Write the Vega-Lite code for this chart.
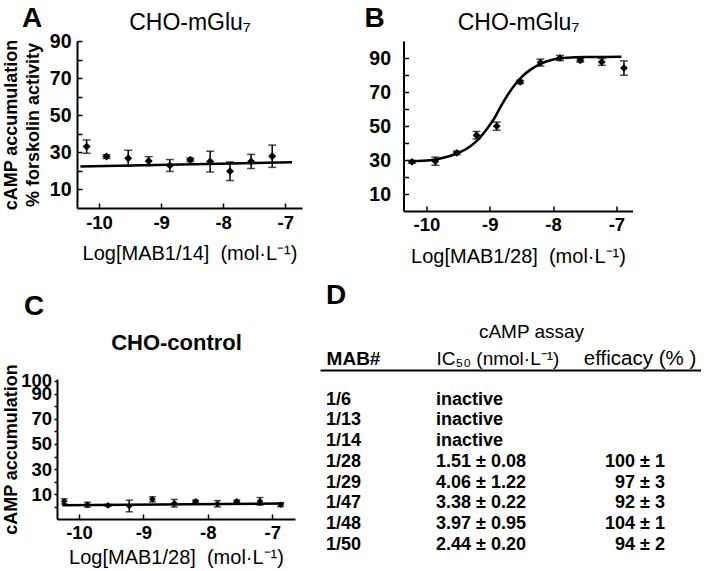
{
  "$schema": "https://vega.github.io/schema/vega-lite/v6.json",
  "background": "white",
  "padding": {"left": 2, "top": 4, "right": 0, "bottom": 0},
  "config": {
    "font": "Liberation Sans",
    "view": {"stroke": null},
    "axis": {"domainColor": "black", "domainWidth": 2, "tickColor": "black", "tickWidth": 1.5, "labelColor": "black", "titleColor": "black", "grid": false, "labelFlush": false, "labelOverlap": false, "labelFont": "Liberation Sans", "titleFont": "Liberation Sans"},
    "title": {"color": "black", "font": "Liberation Sans"},
    "text": {"font": "Liberation Sans", "color": "black"}
  },
  "datasets": {
    "ptsA": [
      {"x": -10.2, "y": 33.1, "e": 3.6},
      {"x": -9.88, "y": 27.7, "e": 1.0},
      {"x": -9.53, "y": 26.8, "e": 4.3},
      {"x": -9.2, "y": 25.3, "e": 2.4},
      {"x": -8.86, "y": 22.9, "e": 3.2},
      {"x": -8.53, "y": 26.0, "e": 1.0},
      {"x": -8.21, "y": 25.0, "e": 5.6},
      {"x": -7.89, "y": 19.8, "e": 5.0},
      {"x": -7.55, "y": 25.1, "e": 3.8},
      {"x": -7.21, "y": 27.9, "e": 6.0}
    ],
    "fitA": [
      {"x": -10.3, "y": 22.3},
      {"x": -6.89, "y": 24.6}
    ],
    "ptsB": [
      {"x": -10.23, "y": 28.9, "e": 0.8},
      {"x": -9.86, "y": 29.3, "e": 2.4},
      {"x": -9.52, "y": 34.2, "e": 1.0},
      {"x": -9.21, "y": 44.6, "e": 2.2},
      {"x": -8.89, "y": 49.9, "e": 2.4},
      {"x": -8.52, "y": 75.9, "e": 1.0},
      {"x": -8.2, "y": 87.3, "e": 2.0},
      {"x": -7.89, "y": 90.0, "e": 1.5},
      {"x": -7.57, "y": 88.6, "e": 1.0},
      {"x": -7.23, "y": 87.7, "e": 2.0},
      {"x": -6.88, "y": 84.1, "e": 4.2}
    ],
    "fitB": [
      {"x": -10.23, "y": 29.3},
      {"x": -9.94, "y": 29.9},
      {"x": -9.67, "y": 31.9},
      {"x": -9.46, "y": 34.8},
      {"x": -9.3, "y": 38.3},
      {"x": -9.17, "y": 42.6},
      {"x": -9.04, "y": 48.5},
      {"x": -8.93, "y": 54.4},
      {"x": -8.83, "y": 61.2},
      {"x": -8.72, "y": 68.1},
      {"x": -8.61, "y": 74.0},
      {"x": -8.48, "y": 79.4},
      {"x": -8.35, "y": 83.3},
      {"x": -8.19, "y": 86.7},
      {"x": -8.01, "y": 89.0},
      {"x": -7.77, "y": 90.2},
      {"x": -7.4, "y": 90.6},
      {"x": -6.92, "y": 90.8}
    ],
    "ptsC": [
      {"x": -10.23, "y": 4.5, "e": 2.0},
      {"x": -9.87, "y": 1.8, "e": 2.0},
      {"x": -9.55, "y": 1.3, "e": 0.8},
      {"x": -9.22, "y": 0.8, "e": 4.6},
      {"x": -8.86, "y": 6.1, "e": 2.0},
      {"x": -8.52, "y": 3.0, "e": 3.0},
      {"x": -8.19, "y": 4.5, "e": 1.0},
      {"x": -7.85, "y": 2.6, "e": 2.5},
      {"x": -7.55, "y": 4.5, "e": 1.0},
      {"x": -7.19, "y": 4.5, "e": 3.0},
      {"x": -6.87, "y": 1.8, "e": 1.5}
    ],
    "fitC": [
      {"x": -10.26, "y": 1.5},
      {"x": -6.82, "y": 2.7}
    ],
    "table": [
      {"mab": "1/6", "ic50": "inactive", "eff": ""},
      {"mab": "1/13", "ic50": "inactive", "eff": ""},
      {"mab": "1/14", "ic50": "inactive", "eff": ""},
      {"mab": "1/28", "ic50": "1.51 ± 0.08", "eff": "100 ± 1"},
      {"mab": "1/29", "ic50": "4.06 ± 1.22", "eff": "97 ± 3"},
      {"mab": "1/47", "ic50": "3.38 ± 0.22", "eff": "92 ± 3"},
      {"mab": "1/48", "ic50": "3.97 ± 0.95", "eff": "104 ± 1"},
      {"mab": "1/50", "ic50": "2.44 ± 0.20", "eff": "94 ± 2"}
    ]
  },
  "columns": 1,
  "align": "none",
  "spacing": 15,
  "concat": [
    {
      "spacing": 62.5,
      "hconcat": [
        {
          "width": 225, "height": 167,
          "title": {"text": "A", "anchor": "start", "frame": "group", "fontSize": 28, "fontWeight": "bold", "dx": -55, "offset": -21},
          "encoding": {
            "y": {"field": "y", "type": "quantitative", "scale": {"domain": [0, 90], "nice": false, "zero": false},
                  "axis": {"values": [10, 20, 30, 40, 50, 60, 70, 80, 90], "labelExpr": "datum.value % 20 == 10 ? datum.label : ''", "tickSize": -5, "labelFontSize": 19.5, "labelFontWeight": "bold", "labelPadding": 11, "title": ["cAMP accumulation", "% forskolin activity"], "titleFontSize": 18, "titleFontWeight": "bold", "titleLineHeight": 22, "titlePadding": 7}}
          },
          "layer": [
            {
              "data": {"name": "fitA"},
              "mark": {"type": "line", "color": "black", "strokeWidth": 2.5},
              "encoding": {
                "x": {"field": "x", "type": "quantitative", "scale": {"domain": [-10.355, -6.73], "nice": false, "zero": false},
                      "axis": {"orient": "top", "domain": false, "ticks": false, "labels": false, "title": "CHO-mGlu₇", "titleFontSize": 23, "titleFontWeight": "normal", "titlePadding": 6.5}}
              }
            },
            {
              "data": {"name": "ptsA"},
              "mark": {"type": "errorbar", "color": "black", "thickness": 1.5, "ticks": {"size": 8}},
              "encoding": {
                "x": {"field": "x", "type": "quantitative", "axis": null},
                "yError": {"field": "e"}
              }
            },
            {
              "data": {"name": "ptsA"},
              "mark": {"type": "point", "shape": "diamond", "filled": true, "size": 64, "color": "black", "opacity": 1},
              "encoding": {
                "x": {"field": "x", "type": "quantitative",
                      "axis": {"orient": "bottom", "values": [-10, -9, -8, -7], "labelExpr": "'' + datum.value", "tickSize": -5, "labelFontSize": 18.5, "labelFontWeight": "bold", "labelPadding": 10.7, "title": "Log[MAB1/14]\u00a0\u00a0(mol·L⁻¹)", "titleFontSize": 20, "titleFontWeight": "normal", "titlePadding": 11}}
              }
            }
          ],
          "resolve": {"axis": {"x": "independent"}}
        },
        {
          "width": 229, "height": 170,
          "title": {"text": "B", "anchor": "start", "frame": "group", "fontSize": 28, "fontWeight": "bold", "dx": -39, "offset": -21},
          "encoding": {
            "y": {"field": "y", "type": "quantitative", "scale": {"domain": [0, 100], "nice": false, "zero": false},
                  "axis": {"values": [10, 20, 30, 40, 50, 60, 70, 80, 90], "labelExpr": "datum.value % 20 == 10 ? datum.label : ''", "tickSize": -5, "labelFontSize": 19.5, "labelFontWeight": "bold", "labelPadding": 18, "title": null}}
          },
          "layer": [
            {
              "data": {"name": "fitB"},
              "mark": {"type": "line", "color": "black", "strokeWidth": 2.5, "interpolate": "monotone"},
              "encoding": {
                "x": {"field": "x", "type": "quantitative", "scale": {"domain": [-10.363, -6.745], "nice": false, "zero": false},
                      "axis": {"orient": "top", "domain": false, "ticks": false, "labels": false, "title": "CHO-mGlu₇", "titleFontSize": 23, "titleFontWeight": "normal", "titlePadding": 6.5}}
              }
            },
            {
              "data": {"name": "ptsB"},
              "mark": {"type": "errorbar", "color": "black", "thickness": 1.5, "ticks": {"size": 8}},
              "encoding": {
                "x": {"field": "x", "type": "quantitative", "axis": null},
                "yError": {"field": "e"}
              }
            },
            {
              "data": {"name": "ptsB"},
              "mark": {"type": "point", "shape": "diamond", "filled": true, "size": 60, "color": "black", "opacity": 1},
              "encoding": {
                "x": {"field": "x", "type": "quantitative",
                      "axis": {"orient": "bottom", "values": [-10, -9, -8, -7], "labelExpr": "'' + datum.value", "tickSize": -5, "labelFontSize": 18.5, "labelFontWeight": "bold", "labelPadding": 9.7, "title": "Log[MAB1/28]\u00a0\u00a0(mol·L⁻¹)", "titleFontSize": 20, "titleFontWeight": "normal", "titlePadding": 12.5}}
              }
            }
          ],
          "resolve": {"axis": {"x": "independent"}}
        }
      ]
    },
    {
      "spacing": 5,
      "hconcat": [
        {
          "width": 218, "height": 140,
          "title": {"text": "C", "anchor": "start", "frame": "group", "fontSize": 28, "fontWeight": "bold", "dx": -53, "offset": 10},
          "encoding": {
            "y": {"field": "y", "type": "quantitative", "scale": {"domain": [-9.5, 101.5], "nice": false, "zero": false},
                  "axis": {"values": [0, 10, 20, 30, 40, 50, 60, 70, 80, 90, 100], "labelExpr": "(datum.value == 100 || datum.value % 20 == 10) ? datum.label : ''", "tickSize": 3, "offset": 20, "labelFontSize": 18.5, "labelFontWeight": "bold", "labelPadding": 2.5, "title": "cAMP accumulation", "titleFontSize": 18, "titleFontWeight": "bold", "titlePadding": 0}}
          },
          "layer": [
            {
              "data": {"name": "fitC"},
              "mark": {"type": "line", "color": "black", "strokeWidth": 2.5},
              "encoding": {
                "x": {"field": "x", "type": "quantitative", "scale": {"domain": [-10.342, -6.646], "range": [-20, 218], "nice": false, "zero": false},
                      "axis": {"orient": "top", "domain": false, "ticks": false, "labels": false, "title": "CHO-control", "titleFontSize": 22, "titleFontWeight": "bold", "titlePadding": 25}}
              }
            },
            {
              "data": {"name": "ptsC"},
              "mark": {"type": "errorbar", "color": "black", "thickness": 1.5, "ticks": {"size": 7}},
              "encoding": {
                "x": {"field": "x", "type": "quantitative", "axis": null},
                "yError": {"field": "e"}
              }
            },
            {
              "data": {"name": "ptsC"},
              "mark": {"type": "point", "shape": "diamond", "filled": true, "size": 45, "color": "black", "opacity": 1},
              "encoding": {
                "x": {"field": "x", "type": "quantitative",
                      "axis": {"orient": "bottom", "values": [-10, -9, -8, -7], "labelExpr": "'' + datum.value", "tickSize": -5, "labelFontSize": 18.5, "labelFontWeight": "bold", "labelPadding": 9, "title": "Log[MAB1/28]\u00a0\u00a0(mol·L⁻¹)", "titleFontSize": 20, "titleFontWeight": "normal", "titlePadding": 6}}
              }
            }
          ],
          "resolve": {"axis": {"x": "independent"}}
        },
        {
          "width": 381, "height": 181,
          "title": {"text": "D", "anchor": "start", "frame": "group", "fontSize": 28, "fontWeight": "bold", "dx": 6, "offset": 12},
          "data": {"name": "table"},
          "encoding": {
            "y": {"field": "mab", "type": "nominal", "sort": null, "scale": {"type": "point", "padding": 0.858, "align": 0.72}, "axis": null}
          },
          "layer": [
            {
              "mark": {"type": "text", "align": "left", "baseline": "alphabetic", "fontSize": 18, "fontWeight": "bold"},
              "encoding": {
                "x": {"datum": 0.016, "type": "quantitative", "scale": {"domain": [0, 1], "nice": false, "zero": false},
                      "axis": {"orient": "top", "values": [0.016, 0.3045, 0.8386],
                               "labelExpr": "datum.value < 0.1 ? 'MAB#' : (datum.value < 0.5 ? 'IC₅₀ (nmol·L⁻¹)' : 'efficacy (% )')",
                               "labelAlign": {"condition": {"test": "datum.value > 0.5", "value": "center"}, "value": "left"},
                               "labelFontWeight": {"condition": {"test": "datum.value < 0.1", "value": "bold"}, "value": "normal"},
                               "labelFontSize": {"condition": {"test": "datum.value > 0.5", "value": 20.5}, "value": 19},
                               "labelPadding": 2, "ticks": false, "offset": 9,
                               "title": "cAMP assay", "titleFontSize": 19, "titleFontWeight": "normal", "titleX": 211, "titlePadding": 7}},
                "text": {"field": "mab"}
              }
            },
            {
              "mark": {"type": "text", "align": "left", "baseline": "alphabetic", "fontSize": 18, "fontWeight": "bold"},
              "encoding": {
                "x": {"datum": 0.3045, "type": "quantitative"},
                "text": {"field": "ic50"}
              }
            },
            {
              "mark": {"type": "text", "align": "right", "baseline": "alphabetic", "fontSize": 18, "fontWeight": "bold"},
              "encoding": {
                "x": {"datum": 0.9055, "type": "quantitative"},
                "text": {"field": "eff"}
              }
            }
          ]
        }
      ]
    }
  ]
}
